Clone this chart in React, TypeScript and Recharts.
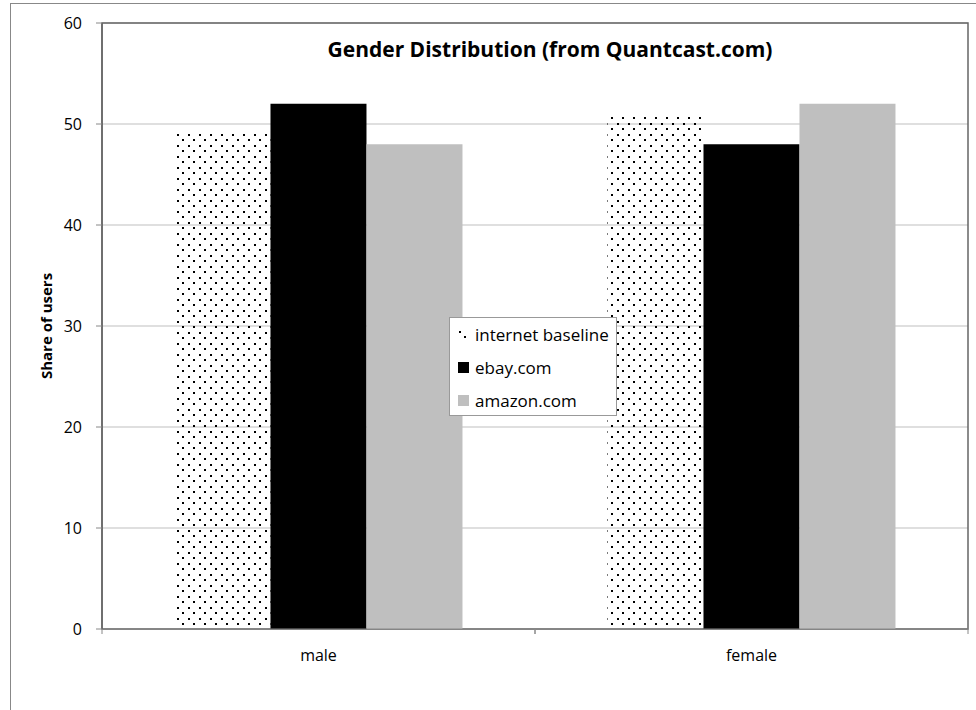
import { BarChart, Bar, XAxis, YAxis, CartesianGrid, Legend, ReferenceArea } from 'recharts';

const genders = ['male', 'female'];
const internetBaseline = [49, 51];
const ebay = [52, 48];
const amazon = [48, 52];
const yTicks = [0, 10, 20, 30, 40, 50, 60];

const data = genders.map((g, i) => ({
  gender: g,
  baseline: internetBaseline[i],
  ebay: ebay[i],
  amazon: amazon[i],
}));

const FONT = '"Open Sans", "Noto Sans", sans-serif';
const HALF_BAND = 216.5;

const XTick = (props: any) => {
  const { x, y, payload } = props;
  return (
    <g>
      <line x1={x - HALF_BAND} y1={y} x2={x - HALF_BAND} y2={y + 5} stroke="#888" />
      <line x1={x + HALF_BAND} y1={y} x2={x + HALF_BAND} y2={y + 5} stroke="#888" />
      <text x={x} y={y + 32} textAnchor="middle" fontSize={16} fontFamily={FONT} fill="#000">
        {payload.value}
      </text>
    </g>
  );
};

const YLabel = (props: any) => {
  const vb = props.viewBox;
  const cx = 46;
  const cy = vb.y + vb.height / 2;
  return (
    <text
      x={cx}
      y={cy}
      transform={`rotate(-90 ${cx} ${cy})`}
      textAnchor="middle"
      dominantBaseline="central"
      fontSize={15}
      fontWeight="bold"
      fontFamily={FONT}
      fill="#000"
    >
      Share of users
    </text>
  );
};

const Marker = ({ fill, dots }: { fill: string; dots?: boolean }) => (
  <svg width={11} height={11} style={{ marginRight: 6 }}>
    {dots ? (
      <>
        <defs>
          <pattern id="legendDots" width={11} height={11} patternUnits="userSpaceOnUse">
            <rect x={1} y={2} width={2} height={2} fill="#000" />
            <rect x={6} y={7} width={2} height={2} fill="#000" />
          </pattern>
        </defs>
        <rect width={11} height={11} fill="url(#legendDots)" />
      </>
    ) : (
      <rect width={11} height={11} fill={fill} />
    )}
  </svg>
);

const LegendBox = () => (
  <div
    style={{
      boxSizing: 'border-box',
      width: 168,
      height: 99,
      border: '1px solid #999',
      background: '#fff',
      padding: '0 0 0 8px',
      fontFamily: FONT,
      fontSize: 17,
      color: '#000',
    }}
  >
    {[
      { name: 'internet baseline', fill: '#fff', dots: true },
      { name: 'ebay.com', fill: '#000' },
      { name: 'amazon.com', fill: '#bfbfbf' },
    ].map((it) => (
      <div key={it.name} style={{ display: 'flex', alignItems: 'center', height: 33, whiteSpace: 'nowrap' }}>
        <Marker fill={it.fill} dots={it.dots} />
        <span>{it.name}</span>
      </div>
    ))}
  </div>
);

export default function App() {
  return (
    <div style={{ position: 'absolute', left: 0, top: 0, width: 976, height: 710, overflow: 'hidden', background: '#fff' }}>
      <div
        style={{
          position: 'absolute',
          left: 10,
          top: 3,
          width: 990,
          height: 730,
          border: '1px solid #888',
        }}
      />
      <div
        style={{
          position: 'absolute',
          left: 0,
          width: 1100,
          top: 37,
          textAlign: 'center',
          fontFamily: FONT,
          fontWeight: 'bold',
          fontSize: 21,
          color: '#000',
          lineHeight: '24px',
        }}
      >
        Gender Distribution (from Quantcast.com)
      </div>
      <div style={{ position: 'absolute', left: 0, top: 0 }}>
        <BarChart
          width={976}
          height={710}
          data={data}
          margin={{ top: 23, right: 8, left: 0, bottom: 0 }}
          barCategoryGap="16.74%"
          barGap={0}
        >
          <defs>
            <pattern id="dots" width={11} height={11} patternUnits="userSpaceOnUse" x={1} y={2}>
              <rect x={0} y={0} width={2} height={2} fill="#000" />
              <rect x={5} y={5} width={2} height={2} fill="#000" />
            </pattern>
          </defs>
          <CartesianGrid vertical={false} stroke="#bfbfbf" />
          <ReferenceArea y1={0} y2={60} fill="none" stroke="#666" strokeWidth={1.5} />
          <XAxis
            dataKey="gender"
            height={81}
            axisLine={{ stroke: '#888' }}
            tickLine={false}
            tickSize={0}
            tickMargin={0}
            tick={<XTick />}
            interval={0}
          />
          <YAxis
            width={102}
            domain={[0, 60]}
            ticks={yTicks}
            axisLine={{ stroke: '#666', strokeWidth: 1.5 }}
            tickLine={{ stroke: '#888' }}
            tickSize={6}
            tickMargin={14}
            tick={{ fontSize: 16, fontFamily: FONT, fill: '#000' }}
            label={<YLabel />}
          />
          <Legend
            layout="vertical"
            align="center"
            verticalAlign="middle"
            content={<LegendBox />}
            wrapperStyle={{ position: 'absolute', left: 449, top: 317, width: 168, height: 99 }}
          />
          <Bar dataKey="baseline" name="internet baseline" fill="url(#dots)" isAnimationActive={false} />
          <Bar dataKey="ebay" name="ebay.com" fill="#000" isAnimationActive={false} />
          <Bar dataKey="amazon" name="amazon.com" fill="#bfbfbf" isAnimationActive={false} />
        </BarChart>
      </div>
    </div>
  );
}
